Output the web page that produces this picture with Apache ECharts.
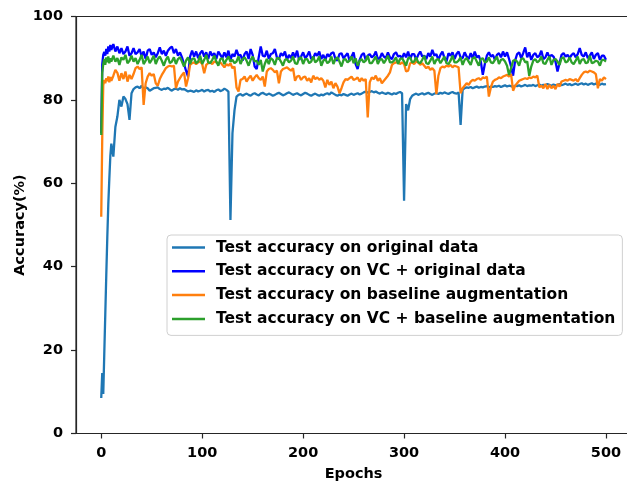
<!DOCTYPE html>
<html>
<head>
<meta charset="utf-8">
<script src="https://cdn.jsdelivr.net/npm/echarts@6/dist/echarts.min.js"></script>
<style>
html,body{margin:0;padding:0;background:#fff;}
#chart{width:627px;height:483px;}
</style>
</head>
<body>
<div id="chart"></div>
<script>
const epochs = [0,1,2,3,4,5,6,7,8,9,10,
12,14,16,18,20,22,24,26,28,30,
32,34,36,38,40,42,44,46,48,50,
52,54,56,58,60,62,64,66,68,70,
72,74,76,78,80,82,84,86,88,90,
92,94,96,98,100,102,104,106,108,110,
112,114,116,118,120,122,124,126,128,130,
132,134,136,138,140,142,144,146,148,150,
152,154,156,158,160,162,164,166,168,170,
172,174,176,178,180,182,184,186,188,190,
192,194,196,198,200,202,204,206,208,210,
212,214,216,218,220,222,224,226,228,230,
232,234,236,238,240,242,244,246,248,250,
252,254,256,258,260,262,264,266,268,270,
272,274,276,278,280,282,284,286,288,290,
292,294,296,298,300,302,304,306,308,310,
312,314,316,318,320,322,324,326,328,330,
332,334,336,338,340,342,344,346,348,350,
352,354,356,358,360,362,364,366,368,370,
372,374,376,378,380,382,384,386,388,390,
392,394,396,398,400,402,404,406,408,410,
412,414,416,418,420,422,424,426,428,430,
432,434,436,438,440,442,444,446,448,450,
452,454,456,458,460,462,464,466,468,470,
472,474,476,478,480,482,484,486,488,490,
492,494,496,498,500];

const accOriginal = [8.5,14.5,9.5,19,28.5,38,47,55,61,66.5,69.5,
66.4,73.5,76.0,80.0,78.4,80.8,80.2,79.0,75.2,81.6,
82.6,83.0,83.2,82.8,83.4,82.6,83.0,82.8,82.2,82.5,
82.8,82.9,83.0,82.6,82.4,82.7,82.6,82.9,82.5,82.2,
82.6,82.7,82.4,82.8,82.5,82.6,82.3,82.0,82.2,82.1,
81.9,82.3,82.0,82.2,82.4,82.0,82.3,82.4,82.0,82.2,
81.9,82.3,82.5,82.1,82.3,82.7,82.4,82.0,51.2,72.0,
77.5,80.8,81.2,81.4,81.0,81.3,81.5,81.2,81.0,81.4,
81.6,81.3,81.1,81.5,81.7,81.4,81.2,81.5,81.3,81.0,
81.2,81.5,81.7,81.4,81.1,81.3,81.6,81.8,81.5,81.2,
81.4,81.6,81.3,81.1,81.4,81.7,81.5,81.2,81.0,81.3,
81.5,81.2,81.0,81.3,81.1,81.4,81.6,81.3,81.8,81.5,
81.2,81.0,81.3,81.1,81.4,81.2,81.0,81.3,81.5,81.2,
81.4,81.6,81.3,81.5,81.8,82.0,81.7,81.9,82.1,81.8,
82.0,81.7,81.5,81.8,81.6,81.4,81.7,81.5,81.3,81.6,
81.4,81.7,81.9,81.6,55.8,79.0,77.5,80.2,81.0,81.3,
81.5,81.2,81.4,81.6,81.3,81.5,81.7,81.4,81.2,81.5,
81.6,81.4,81.7,81.5,81.8,81.6,81.4,81.7,81.9,81.6,
81.5,81.8,74.0,82.4,82.8,83.0,82.9,83.1,82.8,83.0,
83.2,82.9,83.1,83.0,83.2,83.3,83.0,83.2,83.1,83.3,
83.2,83.4,83.1,83.3,83.5,83.2,83.4,83.3,83.1,83.4,
83.3,83.5,83.2,83.4,83.6,83.3,83.5,83.4,83.6,83.3,
83.5,83.7,83.4,83.6,83.5,83.8,83.6,83.4,83.7,83.5,
83.6,83.8,83.5,83.7,83.9,83.6,83.8,83.5,83.7,83.9,
83.6,83.8,84.0,83.7,83.9,83.6,83.8,84.0,83.7,83.9,
83.8,83.6,83.9,83.7,83.8];

const accVCOriginal = [72,88.5,90.8,91.5,90.6,92.2,91.0,92.8,91.6,93.2,92.0,
93.4,91.6,92.8,91.2,92.4,91.0,91.6,92.8,90.6,91.2,
92.4,91.0,91.4,92.2,90.4,91.6,89.8,91.8,92.2,90.8,
91.4,90.2,91.2,92.6,91.0,91.8,90.6,91.8,92.4,92.8,
91.2,92.2,90.6,91.4,90.2,88.6,87.0,85.6,90.4,91.8,
90.4,91.6,90.0,91.2,91.8,90.4,91.4,89.8,91.6,90.6,
91.2,89.8,91.6,90.8,90.0,91.4,90.2,91.8,89.6,91.0,
90.4,92.0,90.6,90.8,89.4,91.0,91.6,89.8,92.2,90.8,
88.0,87.4,90.2,92.8,90.6,90.4,91.8,89.8,91.0,91.2,
92.2,90.2,89.8,91.2,90.6,91.6,89.6,90.8,90.0,91.4,
90.2,91.8,89.6,90.4,91.4,90.0,90.6,91.6,89.8,90.0,
91.2,90.6,91.6,89.8,90.8,89.6,91.0,90.4,91.2,91.4,
89.8,89.4,91.0,91.2,90.0,90.6,91.2,89.4,90.4,91.4,
88.6,87.4,89.6,90.8,91.2,89.6,90.6,91.0,90.2,90.6,
91.6,89.8,90.0,91.2,90.4,90.0,91.4,90.2,89.8,91.0,
91.4,90.4,90.6,90.0,91.2,90.2,91.6,89.8,91.0,91.0,
89.6,90.8,91.6,90.4,90.6,89.8,91.2,90.4,92.0,90.6,
91.0,89.6,90.8,91.6,90.0,89.2,91.2,90.6,91.4,89.8,
91.0,91.6,90.2,90.0,91.4,90.4,89.8,91.2,90.0,91.6,
90.2,90.6,89.2,86.0,88.6,90.6,91.4,90.4,90.8,89.6,
90.8,91.2,90.2,91.6,90.4,91.4,89.8,88.0,85.8,89.4,
91.0,91.4,90.0,91.2,92.6,90.2,91.4,89.6,90.8,91.2,
90.2,90.6,91.8,89.8,90.2,91.4,90.2,90.8,90.4,89.2,
86.8,88.8,90.8,91.2,90.4,90.8,90.0,90.8,91.2,90.2,
91.0,92.4,90.8,90.4,91.4,90.0,90.6,91.4,89.8,90.8,
91.2,89.6,90.6,90.6,89.6];

const accBaseline = [52,71,83.5,84.8,84.0,85.2,84.5,85.6,84.2,85.5,84.6,
85.8,87.2,86.5,84.6,86.4,85.0,86.8,84.4,86.0,85.0,
86.2,87.6,88.0,87.4,87.8,78.8,84.0,85.6,86.4,85.8,
86.2,84.0,83.4,85.0,86.0,86.8,87.6,88.0,88.2,88.0,
88.2,82.8,84.4,85.2,86.0,86.6,83.2,85.2,88.4,88.8,
89.0,88.6,89.0,89.2,88.6,86.4,88.4,88.8,89.0,88.6,
89.2,89.0,88.8,89.0,88.4,87.8,88.6,88.2,88.8,87.6,
88.0,83.0,82.0,84.8,85.0,85.6,84.4,85.2,85.8,84.6,
85.4,86.0,85.2,84.8,85.6,83.2,86.8,87.4,87.6,87.2,
86.6,87.0,84.0,86.8,87.4,87.6,87.8,87.4,87.0,87.6,
84.6,85.6,85.8,84.8,85.4,85.6,84.6,85.2,84.2,85.8,
85.0,85.4,84.8,85.2,84.6,83.0,84.8,83.6,84.4,82.8,
84.0,83.2,81.6,82.8,84.2,85.0,84.8,85.2,85.6,84.8,
85.0,85.4,84.4,85.2,84.6,85.0,75.8,84.2,85.4,85.0,
85.8,84.6,85.2,84.0,84.6,85.2,85.8,86.6,88.4,88.8,
89.0,89.2,88.6,89.0,88.6,86.8,87.0,88.8,89.0,88.6,
89.2,89.0,88.4,88.8,88.2,87.6,88.0,87.2,87.6,87.0,
81.4,85.8,87.6,88.0,87.8,88.2,88.0,88.4,87.8,88.2,
88.0,87.8,81.6,82.8,83.4,84.0,83.6,84.4,84.8,84.6,
85.0,85.2,84.8,85.4,85.2,85.6,80.8,83.0,84.4,84.8,
85.0,85.4,85.2,85.6,85.8,86.0,85.6,86.2,82.2,83.4,
84.0,84.6,84.8,85.0,85.2,85.0,85.4,85.2,85.6,85.4,
85.8,83.0,83.4,82.8,83.8,82.6,83.6,82.8,83.4,82.6,
83.8,83.2,84.4,84.6,84.8,84.6,85.0,84.8,84.6,85.0,
84.4,85.2,86.0,86.6,86.8,86.6,87.0,86.8,86.6,86.2,
82.8,85.0,84.6,85.4,85.0];

const accVCBaseline = [71.6,86.5,88.6,89.8,88.4,90.2,89.0,90.4,88.8,90.0,89.2,
90.6,89.2,90.0,88.4,90.2,89.6,90.8,88.8,89.4,90.6,
89.2,90.0,88.6,89.6,90.8,88.6,89.4,90.4,88.8,89.6,
90.6,88.6,89.8,90.4,89.4,88.2,89.6,90.4,88.8,89.2,
90.2,88.6,89.8,90.2,89.2,88.0,89.4,90.2,88.6,89.8,
90.0,88.8,89.2,90.6,88.6,89.6,90.8,89.0,88.8,89.6,
90.6,89.2,88.2,89.8,90.0,88.6,89.6,90.4,89.2,89.6,
88.8,89.2,90.4,88.6,89.8,90.2,89.4,88.2,89.6,90.4,
89.2,89.4,88.4,89.6,86.8,88.6,89.8,88.6,90.0,89.6,
88.4,90.0,90.0,89.2,88.2,89.6,89.8,89.0,89.4,90.4,
88.8,88.6,90.0,90.2,88.6,89.8,89.8,88.8,89.2,90.4,
89.0,89.4,90.4,88.2,89.4,89.8,88.8,89.2,90.4,88.6,
89.8,90.2,89.2,88.0,89.6,89.8,89.0,89.4,90.4,88.8,
90.0,88.2,89.4,89.8,89.0,89.4,90.6,88.8,88.8,89.6,
90.4,88.6,89.6,89.8,88.8,89.6,90.6,89.0,89.0,89.4,
90.2,88.6,89.8,90.0,89.2,88.2,90.0,90.2,89.0,89.2,
90.2,89.0,88.8,89.6,90.6,88.8,88.6,89.4,90.4,88.6,
89.6,89.8,88.8,89.6,90.4,88.8,88.6,89.4,90.6,89.0,
89.0,89.4,90.2,88.4,89.6,90.0,89.2,88.4,90.0,90.2,
89.2,88.2,89.8,90.0,89.0,89.2,90.2,89.0,88.8,89.6,
90.4,88.6,89.6,89.8,89.2,88.2,86.0,87.6,89.4,89.6,
89.2,88.2,89.8,90.0,89.0,89.2,85.8,88.0,89.4,89.8,
89.0,89.4,90.4,88.8,88.6,89.6,90.4,88.4,89.6,89.8,
89.2,88.4,90.0,90.2,89.0,89.2,90.2,89.0,88.6,89.4,
90.4,88.6,89.6,89.8,88.8,89.0,90.6,88.8,89.0,89.4,
89.2,88.2,89.6,89.6,89.2];

const seriesNames = [
  'Test accuracy on original data',
  'Test accuracy on VC + original data',
  'Test accuracy on baseline augmentation',
  'Test accuracy on VC + baseline augmentation'
];
const xTicks = [0,100,200,300,400,500];

const colors = ['#1f77b4','#0000ff','#ff7f0e','#2ca02c'];
const allValues = [accOriginal, accVCOriginal, accBaseline, accVCBaseline];

const chart = echarts.init(document.getElementById('chart'), null, {renderer:'canvas'});
const font = 'DejaVu Sans';
const axisColor = '#262626';

chart.setOption({
  animation: false,
  backgroundColor: '#fff',
  grid: {
    left: 76, top: 16.5, bottom: 49.5, right: -4.2,
    outerBoundsMode: 'none', containLabel: false,
    show: true, borderColor: axisColor, borderWidth: 1.2, backgroundColor: 'transparent'
  },
  xAxis: {
    type: 'value', min: -25, max: 525,
    name: 'Epochs', nameLocation: 'middle', nameGap: 33, nameMoveOverlap: false,
    nameTextStyle: {fontFamily: font, fontWeight: 'bold', fontSize: 14.5, color: '#000'},
    axisLine: {show: true, onZero: false, lineStyle: {color: axisColor, width: 1.2}},
    axisTick: {show: true, length: 5, inside: false, customValues: xTicks, lineStyle: {color: axisColor, width: 1.2}},
    axisLabel: {customValues: xTicks, margin: 12, fontFamily: font, fontWeight: 'bold', fontSize: 14.5, color: '#000'},
    splitLine: {show: false}
  },
  yAxis: {
    type: 'value', min: 0, max: 100, interval: 20,
    name: 'Accuracy(%)', nameLocation: 'middle', nameGap: 48, nameRotate: 90, nameMoveOverlap: false,
    nameTextStyle: {fontFamily: font, fontWeight: 'bold', fontSize: 14.5, color: '#000'},
    axisLine: {show: true, onZero: false, lineStyle: {color: axisColor, width: 1.2}},
    axisTick: {show: true, length: 5, lineStyle: {color: axisColor, width: 1.2}},
    axisLabel: {margin: 13, fontFamily: font, fontWeight: 'bold', fontSize: 14.5, color: '#000'},
    splitLine: {show: false}
  },
  legend: {
    orient: 'vertical', left: 167, top: 235,
    padding: [3.5, 7, 7.5, 5],
    itemGap: 5.8, itemWidth: 33, itemHeight: 2.5,
    borderColor: '#d0d0d0', borderWidth: 1, borderRadius: 4,
    backgroundColor: 'rgba(255,255,255,0.85)',
    textStyle: {fontFamily: font, fontWeight: 'bold', fontSize: 15.5, color: '#000', lineHeight: 18, padding: [0,0,0,6]},
    data: seriesNames.map((n, i) => ({name: n, icon: 'rect', itemStyle: {color: colors[i]}}))
  },
  series: seriesNames.map((n, i) => ({
    name: n, type: 'line', showSymbol: false, symbol: 'none',
    data: epochs.map((e, j) => [e, allValues[i][j]]),
    lineStyle: {color: colors[i], width: 2.3},
    itemStyle: {color: colors[i]},
    z: 2 + i
  }))
});
</script>
</body>
</html>
